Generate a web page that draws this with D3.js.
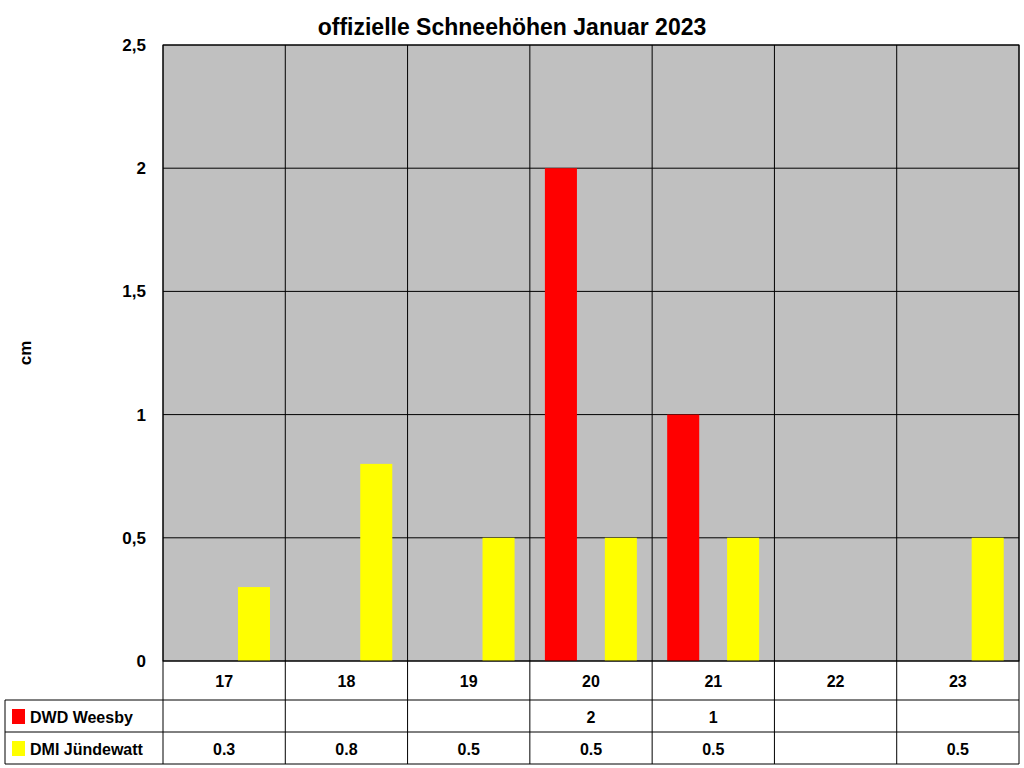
<!DOCTYPE html>
<html><head><meta charset="utf-8">
<script src="https://cdn.jsdelivr.net/npm/d3@7"></script>
<style>body{margin:0;background:#fff}text{font-family:Arial,"Liberation Sans",sans-serif;font-weight:bold}</style>
</head><body>
<svg id="chart" width="1024" height="768"></svg>
<script>
var days = ["17", "18", "19", "20", "21", "22", "23"];
var seriesNames = ["DWD Weesby", "DMI Jündewatt"];
var dwd = [null, null, null, 2, 1, null, null];
var dmi = [0.3, 0.8, 0.5, 0.5, 0.5, null, 0.5];
var yTicks = [0, 0.5, 1, 1.5, 2, 2.5];
var colors = ["#ff0000", "#ffff00"];

var svg = d3.select("#chart");
var pLeft = 163, pRight = 1019, pTop = 45, pBottom = 661;

var x = d3.scaleBand().domain(days).range([pLeft, pRight]);
var y = d3.scaleLinear().domain([0, 2.5]).range([pBottom, pTop]);

// plot background
svg.append("rect").attr("x", pLeft).attr("y", pTop)
  .attr("width", pRight - pLeft).attr("height", pBottom - pTop).attr("fill", "#c0c0c0");

// horizontal grid
svg.selectAll(".hg").data(yTicks).enter().append("line")
  .attr("x1", pLeft).attr("x2", pRight)
  .attr("y1", d => y(d)).attr("y2", d => y(d))
  .attr("stroke", "#000").attr("stroke-width", 1);

// vertical grid
svg.selectAll(".vg").data(days.concat(["end"])).enter().append("line")
  .attr("x1", (d, i) => pLeft + i * x.bandwidth()).attr("x2", (d, i) => pLeft + i * x.bandwidth())
  .attr("y1", pTop).attr("y2", pBottom)
  .attr("stroke", "#000");

// bars
var bw = x.bandwidth() * 0.262;
var offs = [x.bandwidth() * 0.123, x.bandwidth() * 0.613];
[dwd, dmi].forEach(function (vals, s) {
  svg.selectAll(".b" + s).data(days).enter().filter((d, i) => vals[i] != null)
    .append("rect")
    .attr("x", d => x(d) + offs[s])
    .attr("y", d => y(vals[days.indexOf(d)]))
    .attr("width", bw)
    .attr("height", d => pBottom - y(vals[days.indexOf(d)]))
    .attr("fill", colors[s]);
});

svg.append("rect").attr("x", pLeft).attr("y", pTop)
  .attr("width", pRight - pLeft).attr("height", pBottom - pTop)
  .attr("fill", "none").attr("stroke", "#000");

// y axis labels
svg.selectAll(".yl").data(yTicks).enter().append("text")
  .attr("x", 146).attr("y", d => y(d) + 6)
  .attr("text-anchor", "end").attr("font-size", 17)
  .text(d => String(d).replace(".", ","));

svg.append("text").attr("transform", "translate(31,353) rotate(-90)")
  .attr("text-anchor", "middle").attr("font-size", 17).text("cm");

svg.append("text").attr("x", 512).attr("y", 35).attr("text-anchor", "middle")
  .attr("font-size", 23).text("offizielle Schneehöhen Januar 2023");

// data table
var rowY = [661, 700, 732, 764];
var tbl = svg.append("g").attr("stroke", "#000").attr("fill", "none");
[700, 732, 764].forEach(function (yy) {
  tbl.append("line").attr("x1", 5).attr("x2", pRight).attr("y1", yy).attr("y2", yy);
});
tbl.append("line").attr("x1", 5).attr("x2", 5).attr("y1", 700).attr("y2", 764);
days.concat(["end"]).forEach(function (d, i) {
  var xx = pLeft + i * x.bandwidth();
  tbl.append("line").attr("x1", xx).attr("x2", xx).attr("y1", pBottom).attr("y2", 764);
});

svg.selectAll(".cat").data(days).enter().append("text")
  .attr("x", d => x(d) + x.bandwidth() / 2).attr("y", 687)
  .attr("text-anchor", "middle").attr("font-size", 16).text(d => d);

[dwd, dmi].forEach(function (vals, s) {
  var ry = rowY[s + 1];
  svg.append("rect").attr("x", 12).attr("y", ry + 9).attr("width", 13).attr("height", 15).attr("fill", colors[s]);
  svg.append("text").attr("x", 30).attr("y", ry + 23).attr("font-size", 16).text(seriesNames[s]);
  svg.selectAll(".v" + s).data(days).enter().filter((d, i) => vals[i] != null)
    .append("text")
    .attr("x", d => x(d) + x.bandwidth() / 2).attr("y", ry + 23)
    .attr("text-anchor", "middle").attr("font-size", 16)
    .text(d => vals[days.indexOf(d)]);
});
</script>
</body></html>
